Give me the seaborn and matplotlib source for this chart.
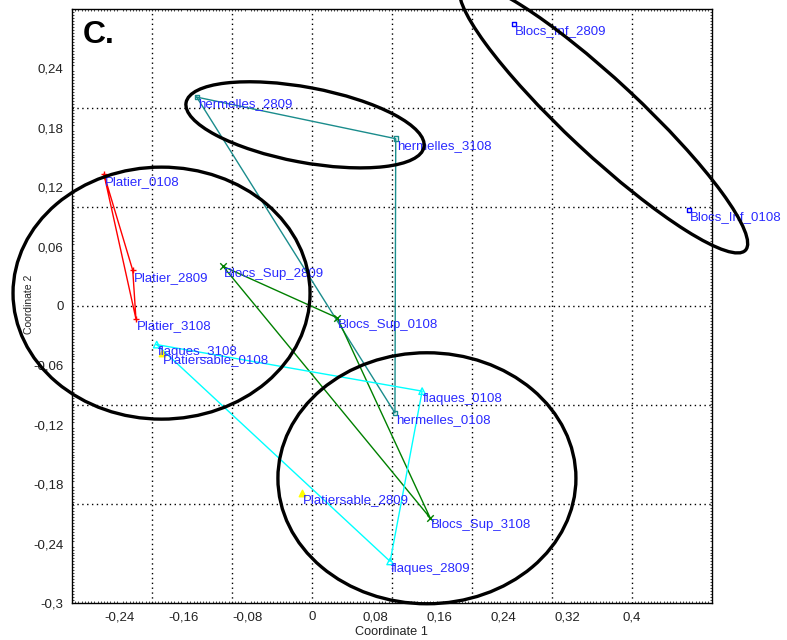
import numpy as np
import pandas as pd
import matplotlib
matplotlib.use("Agg")
import matplotlib.pyplot as plt
import matplotlib.transforms as mtransforms
from matplotlib.patches import Ellipse
from matplotlib.ticker import MultipleLocator, FixedLocator, FuncFormatter
import seaborn as sns

# sample coordinates
labels = ["Platier_0108", "Platier_2809", "Platier_3108",
          "hermelles_2809", "hermelles_3108", "hermelles_0108",
          "Blocs_Sup_2809", "Blocs_Sup_0108", "Blocs_Sup_3108",
          "flaques_3108", "flaques_0108", "flaques_2809",
          "Platiersable_0108", "Platiersable_2809",
          "Blocs_Inf_2809", "Blocs_Inf_0108"]
groups = ["Platier"] * 3 + ["hermelles"] * 3 + ["Blocs_Sup"] * 3 + ["flaques"] * 3 \
    + ["Platiersable"] * 2 + ["Blocs_Inf"] * 2
coord1 = [-0.260, -0.224, -0.220,
          -0.144, 0.105, 0.104,
          -0.111, 0.032, 0.148,
          -0.194, 0.138, 0.098,
          -0.187, -0.012,
          0.253, 0.472]
coord2 = [0.133, 0.036, -0.013,
          0.211, 0.169, -0.108,
          0.040, -0.012, -0.214,
          -0.039, -0.086, -0.258,
          -0.047, -0.189,
          0.285, 0.097]

group_colors = {"Platier": "#ff0000", "hermelles": "#1a8c8c", "Blocs_Sup": "#008000",
                "flaques": "#00ffff", "Platiersable": "#ffff00", "Blocs_Inf": "#0000ff"}
group_markers = {"Platier": "+", "hermelles": "s", "Blocs_Sup": "x",
                 "flaques": "^", "Platiersable": "^", "Blocs_Inf": "s"}

# hand drawn ellipses: centre (data), width/height (inches), angle
ell_x = [-0.188, -0.0085, 0.365, 0.144]
ell_y = [0.013, 0.183, 0.190, -0.174]
ell_w = [2.97, 2.42, 3.88, 2.98]
ell_h = [2.52, 0.75, 0.74, 2.51]
ell_angle = [0, -10.6, -43, 0]

xticks = [-0.24, -0.16, -0.08, 0, 0.08, 0.16, 0.24, 0.32, 0.4]
yticks = [-0.3, -0.24, -0.18, -0.12, -0.06, 0, 0.06, 0.12, 0.18, 0.24]
grid_x = [-0.2, -0.1, 0.0, 0.1, 0.2, 0.3, 0.4]
grid_y = [-0.2, -0.1, 0.0, 0.1, 0.2]

df = pd.DataFrame({"label": labels, "group": groups, "x": coord1, "y": coord2})

sns.set_style("white")
plt.rcParams["font.family"] = ["Liberation Sans", "DejaVu Sans"]

fig = plt.figure(figsize=(7.87, 6.4), dpi=100)
ax = fig.add_axes([72 / 787, 37 / 640, 639.5 / 787, 594 / 640])

for gx in grid_x:
    ax.axvline(gx, color="black", lw=1.0, ls=(0, (1, 2.5)), zorder=0)
for gy in grid_y:
    ax.axhline(gy, color="black", lw=1.0, ls=(0, (1, 2.5)), zorder=0)

# convex hulls (groups with 3 samples)
for g, sub in df.groupby("group", sort=False):
    if len(sub) < 3:
        continue
    closed = pd.concat([sub, sub.iloc[:1]])
    sns.lineplot(data=closed, x="x", y="y", sort=False, estimator=None,
                 color=group_colors[g], lw=1.0, ax=ax, zorder=2)

for g, sub in df.groupby("group", sort=False):
    m = group_markers[g]
    filled = g == "Platiersable"
    if m in ("+", "x"):
        sns.scatterplot(data=sub, x="x", y="y", marker=m, color=group_colors[g],
                        s=22, linewidth=1.0, ax=ax, zorder=3, legend=False)
    else:
        sns.scatterplot(data=sub, x="x", y="y", marker=m, s=10 if m == "s" else 22,
                        facecolor=group_colors[g] if filled else "none",
                        edgecolor=group_colors[g], linewidth=1.0, ax=ax, zorder=3,
                        legend=False)

for _, r in df.iterrows():
    ax.annotate(r["label"], (r["x"], r["y"]), xytext=(0.7, -7.5), textcoords="offset points",
                ha="left", va="baseline", color="#2a2aff", fontsize=9.5, zorder=4,
                annotation_clip=False)

for cx, cy, w, h, a in zip(ell_x, ell_y, ell_w, ell_h, ell_angle):
    tr = fig.dpi_scale_trans + mtransforms.ScaledTranslation(cx, cy, ax.transData)
    e = Ellipse((0, 0), w, h, angle=a, transform=tr, fill=False, edgecolor="black",
                lw=2.4, clip_on=False, zorder=5)
    ax.add_artist(e)

ax.set_xlim(-0.3, 0.5)
ax.set_ylim(-0.3, 0.3)
ax.xaxis.set_major_locator(FixedLocator(xticks))
ax.yaxis.set_major_locator(FixedLocator(yticks))
ax.xaxis.set_minor_locator(MultipleLocator(0.004))
ax.yaxis.set_minor_locator(MultipleLocator(0.003))
fmt = FuncFormatter(lambda v, p: ("%g" % round(v, 3)).replace(".", ","))
ax.xaxis.set_major_formatter(fmt)
ax.yaxis.set_major_formatter(fmt)
ax.tick_params(which="major", direction="out", length=3.5, width=0.9, labelsize=9.5,
               color="black", labelcolor="#222222", pad=2.5)
ax.tick_params(which="minor", direction="in", length=1.6, width=0.6,
               top=True, right=True, bottom=True, left=True)
for s in ax.spines.values():
    s.set_color("black")
    s.set_linewidth(1.0)

ax.set_xlabel("Coordinate 1", fontsize=9.2, color="#222222", labelpad=2)
ax.set_ylabel("Coordinate 2", fontsize=7.5, color="#222222")
ax.yaxis.set_label_coords(-0.059, 0.502)

ax.text(0.017, 0.943, "C.", transform=ax.transAxes, fontsize=23, fontweight="bold",
        family=["Liberation Sans", "DejaVu Sans"], ha="left", va="baseline", color="black")

fig.savefig("out.png", dpi=100)
